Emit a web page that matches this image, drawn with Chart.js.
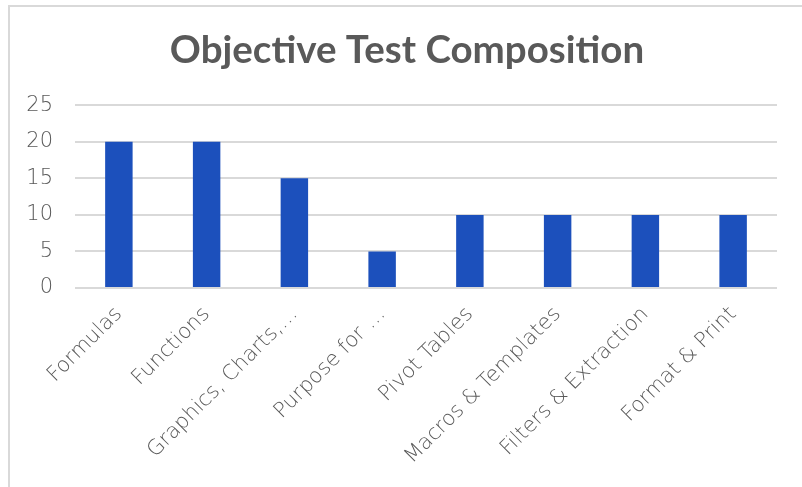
<!DOCTYPE html>
<html>
<head>
<meta charset="utf-8">
<script src="https://cdn.jsdelivr.net/npm/chart.js@4"></script>
<style>
  html, body { margin: 0; padding: 0; background: #ffffff; }
  #wrap { position: relative; width: 802px; height: 487px; overflow: hidden; }
  #frame { position: absolute; left: 8px; top: 5px; width: 800px; height: 490px;
           border-left: 2px solid #d9d9d9; border-top: 2px solid #d9d9d9; box-sizing: border-box; }
  canvas { position: absolute; left: 0; top: 0; }
</style>
</head>
<body>
<div id="wrap">
  <div id="frame"></div>
  <canvas id="c" width="802" height="487"></canvas>
</div>
<script>
const categories = ["Formulas", "Functions", "Graphics, Charts,\u2026", "Purpose for \u2026", "Pivot Tables", "Macros & Templates", "Filters & Extraction", "Format & Print"];
const values = [20, 20, 15, 5, 10, 10, 10, 10];
const yTicks = [0, 5, 10, 15, 20, 25];
const titleText = "Objective Test Composition";

const labelFont = { family: "'DejaVu Sans', sans-serif", size: 21, weight: '200' };

const shiftTitle = {
  id: 'shiftTitle',
  afterLayout(chart) {
    const t = chart.titleBlock;
    if (t) { t.left = 37; t.right = 777; }
  }
};

new Chart(document.getElementById('c'), {
  type: 'bar',
  data: {
    labels: categories,
    datasets: [{
      data: values,
      backgroundColor: '#1c50bc',
      borderWidth: 0,
      barPercentage: 0.313,
      categoryPercentage: 1.0
    }]
  },
  plugins: [shiftTitle],
  options: {
    responsive: false,
    animation: false,
    devicePixelRatio: 1,
    layout: { padding: { left: 10, right: 25, top: 0, bottom: 0 } },
    plugins: {
      legend: { display: false },
      tooltip: { enabled: false },
      title: {
        display: true,
        text: titleText,
        color: '#595959',
        font: { family: "Lato, 'Open Sans', sans-serif", size: 38.5, weight: 'bold' },
        padding: { top: 27, bottom: 32 }
      }
    },
    scales: {
      x: {
        grid: { display: false },
        border: { display: false },
        ticks: {
          color: '#595959',
          font: labelFont,
          maxRotation: 45,
          minRotation: 45,
          autoSkip: false,
          padding: 6
        },
        afterFit: (s) => { s.height = 199; }
      },
      y: {
        min: 0,
        max: 25,
        afterBuildTicks: (s) => { s.ticks = yTicks.map(v => ({ value: v })); },
        grid: { color: '#d9d9d9', lineWidth: 2, drawTicks: false },
        border: { display: false },
        ticks: {
          color: '#595959',
          font: labelFont,
          padding: 22
        },
        afterFit: (s) => { s.width = 65; }
      }
    }
  }
});
</script>
</body>
</html>
